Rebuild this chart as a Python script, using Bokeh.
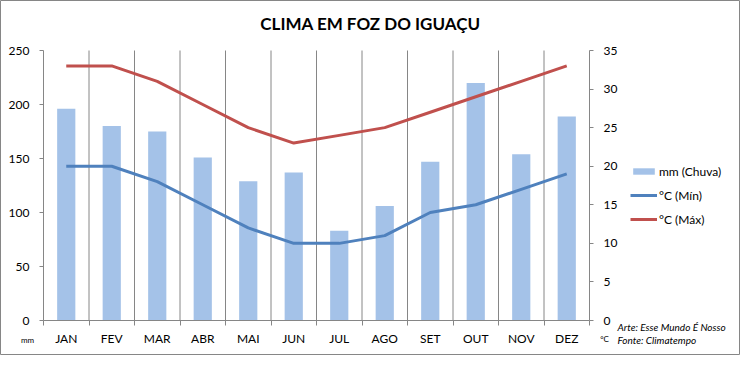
from bokeh.plotting import figure
from bokeh.models import (Range1d, LinearAxis, FixedTicker, Legend, LegendItem,
                          Label, ColumnDataSource)
from bokeh.embed import file_html
from bokeh.resources import INLINE

months = ["JAN", "FEV", "MAR", "ABR", "MAI", "JUN", "JUL", "AGO", "SET", "OUT", "NOV", "DEZ"]
rain_mm = [196, 180, 175, 151, 129, 137, 83, 106, 147, 220, 154, 189]
temp_min = [20, 20, 18, 15, 12, 10, 10, 11, 14, 15, 17, 19]
temp_max = [33, 33, 31, 28, 25, 23, 24, 25, 27, 29, 31, 33]
rain_ticks = [0, 50, 100, 150, 200, 250]
temp_ticks = [0, 5, 10, 15, 20, 25, 30, 35]
RAIN_MAX = 250
TEMP_MAX = 35

FONT = "Lato"
GRAY = "#868686"
BAR = "#A4C2E8"
BLUE = "#4F81BD"
RED = "#C0504D"

# layout in pixels (canvas = frame)
W, H = 740, 355
PL, PT, PR, PB = 43, 50, 589, 320
n = len(months)
cw = (PR - PL) / n
mm_px = RAIN_MAX / (PB - PT)
t_px = TEMP_MAX / (PB - PT)


def dx(px):
    return (px - PL) / cw


def dy(py):
    return (PB - py) * mm_px


xs = [i + 0.5 for i in range(n)]
bounds = list(range(n + 1))
src = ColumnDataSource(dict(x=xs, month=months, rain=rain_mm, tmin=temp_min, tmax=temp_max))

p = figure(width=W, height=H,
           x_range=Range1d(dx(0), dx(W)),
           y_range=Range1d(dy(H), dy(0)),
           x_axis_location=None, y_axis_location=None,
           output_backend="svg", toolbar_location=None,
           min_border_left=0, min_border_right=0, min_border_top=0, min_border_bottom=0)
p.extra_y_ranges = {"temp": Range1d(-(H - PB) * t_px, TEMP_MAX + PT * t_px)}
p.outline_line_color = GRAY
p.background_fill_color = "white"
p.border_fill_color = "white"
p.xgrid.visible = False
p.ygrid.visible = False

# vertical gridlines between categories
p.segment(x0=bounds[1:-1], y0=0, x1=bounds[1:-1], y1=RAIN_MAX, line_color=GRAY, line_width=1)

bars = p.vbar(x="x", top="rain", width=0.4, source=src, fill_color=BAR, line_color=None)
lmin = p.line("x", "tmin", source=src, y_range_name="temp", line_color=BLUE, line_width=3)
lmax = p.line("x", "tmax", source=src, y_range_name="temp", line_color=RED, line_width=3)

# axes
xa = LinearAxis(fixed_location=0, bounds=(0, n),
                ticker=FixedTicker(ticks=xs, minor_ticks=bounds))
xa.major_label_overrides = {x: m for x, m in zip(xs, months)}
xa.major_tick_out = 0
xa.major_tick_in = 0
xa.minor_tick_out = 5
xa.minor_tick_in = 0
xa.minor_tick_line_color = GRAY
xa.major_label_standoff = 5
p.add_layout(xa, "below")

ya = LinearAxis(fixed_location=0, bounds=(0, RAIN_MAX), ticker=FixedTicker(ticks=rain_ticks))
ya.major_tick_out = 4
ya.major_tick_in = 0
ya.minor_tick_line_color = None
ya.major_label_standoff = 10
p.add_layout(ya, "left")

yr = LinearAxis(y_range_name="temp", fixed_location=n, bounds=(0, TEMP_MAX),
                ticker=FixedTicker(ticks=temp_ticks))
yr.major_tick_out = 4
yr.major_tick_in = 0
yr.minor_tick_line_color = None
yr.major_label_standoff = 10
p.add_layout(yr, "right")

for ax in [xa, ya, yr]:
    ax.axis_line_color = GRAY
    ax.major_tick_line_color = GRAY
    ax.major_label_text_font = FONT
    ax.major_label_text_font_size = "12px"
    ax.major_label_text_color = "black"

legend = Legend(items=[LegendItem(label="mm (Chuva)", renderers=[bars]),
                       LegendItem(label="°C (Mín)", renderers=[lmin]),
                       LegendItem(label="°C (Máx)", renderers=[lmax])],
                location=(630, H - 227), orientation="vertical",
                glyph_width=27, glyph_height=8, label_height=16, spacing=8,
                label_standoff=2, padding=0, margin=0,
                label_text_font=FONT, label_text_font_size="12px",
                label_text_color="black",
                background_fill_alpha=0, border_line_color=None)
p.add_layout(legend, "center")

p.add_layout(Label(x=dx(370), y=dy(23), text="CLIMA EM FOZ DO IGUAÇU", text_align="center",
                   text_baseline="middle", text_font=FONT, text_font_style="bold",
                   text_font_size="17px", text_color="black"))
p.add_layout(Label(x=dx(27), y=dy(339), text="mm", text_align="center", text_baseline="middle",
                   text_font=FONT, text_font_size="8px", text_color="black"))
p.add_layout(Label(x=dx(604), y=dy(338), text="°C", text_align="center", text_baseline="middle",
                   text_font=FONT, text_font_size="8px", text_color="black"))
p.add_layout(Label(x=dx(617), y=dy(326.5), text="Arte: Esse Mundo É Nosso", text_align="left",
                   text_baseline="middle", text_font=FONT, text_font_style="italic",
                   text_font_size="10px", text_color="black"))
p.add_layout(Label(x=dx(617), y=dy(339.5), text="Fonte: Climatempo", text_align="left",
                   text_baseline="middle", text_font=FONT, text_font_style="italic",
                   text_font_size="10px", text_color="black"))

open("out.html", "w").write(file_html(p, INLINE))
